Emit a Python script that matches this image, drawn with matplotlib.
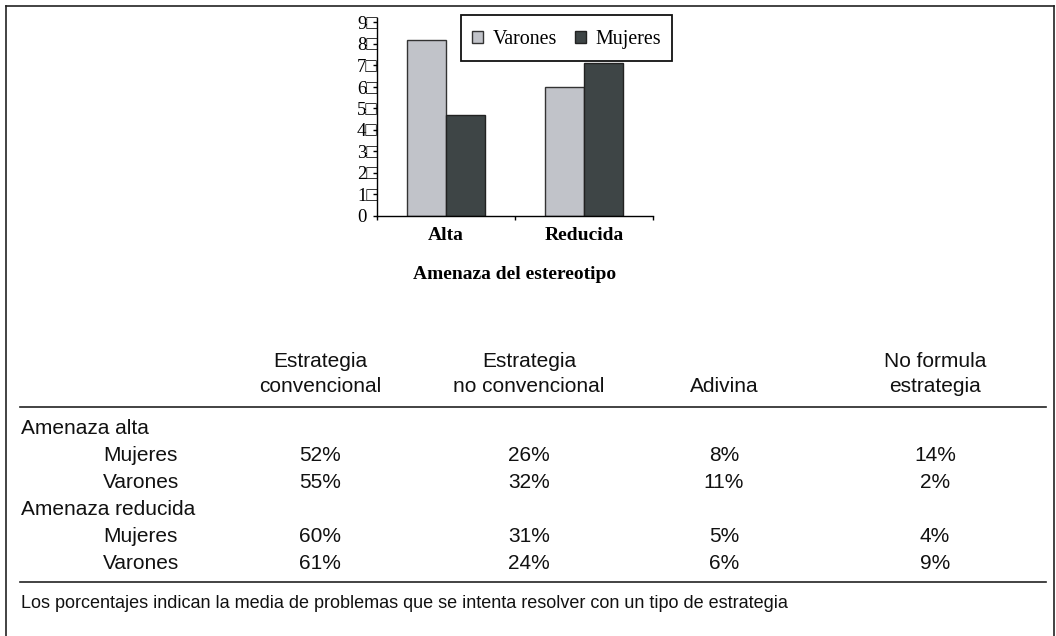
import matplotlib
matplotlib.use("Agg")
import matplotlib.pyplot as plt
from matplotlib.patches import Rectangle
from matplotlib.lines import Line2D
import numpy as np

# ---------------- data ----------------
categories = ["Alta", "Reducida"]
series_names = ["Varones", "Mujeres"]
varones = [82, 60]
mujeres = [47, 71]
ytick_values = [0, 10, 20, 30, 40, 50, 60, 70, 80, 90]
ytick_labels = ["0", "1\u25a1", "2\u25a1", "3\u25a1", "4\u25a1", "5\u25a1",
                "6\u25a1", "7\u25a1", "8\u25a1", "9\u25a1"]
xlabel_text = "Amenaza del estereotipo"

col_headers = [["Estrategia", "convencional"],
               ["Estrategia", "no convencional"],
               ["", "Adivina"],
               ["No formula", "estrategia"]]
row_groups = ["Amenaza alta", "Amenaza reducida"]
row_sub = ["Mujeres", "Varones"]
table_values = [["52%", "26%", "8%", "14%"],
                ["55%", "32%", "11%", "2%"],
                ["60%", "31%", "5%", "4%"],
                ["61%", "24%", "6%", "9%"]]
footnote = "Los porcentajes indican la media de problemas que se intenta resolver con un tipo de estrategia"

# ---------------- figure ----------------
W, H = 1056, 636
fig = plt.figure(figsize=(W / 100, H / 100), dpi=100)
fig.patch.set_facecolor("white")

def fx(px):
    return px / W

def fy(py):
    return 1 - py / H

serif = ["Liberation Serif", "DejaVu Serif"]
sans = ["Liberation Sans", "DejaVu Sans"]
ink = "#111111"

# outer frame (open at bottom)
for xs, ys in [([6, 6], [6, 636]), ([1054, 1054], [6, 636]), ([6, 1054], [6, 6])]:
    fig.add_artist(Line2D([fx(v) for v in xs], [fy(v) for v in ys], color="#222222",
                          lw=1.2, transform=fig.transFigure))

# ---------------- bar chart ----------------
ax_left, ax_right = 377, 653
ax_bottom_px = 216
ymax = 92
px_per_unit = 2.15
ax_top_px = ax_bottom_px - ymax * px_per_unit
ax = fig.add_axes([fx(ax_left), fy(ax_bottom_px), (ax_right - ax_left) / W,
                   (ax_bottom_px - ax_top_px) / H])

x = np.arange(len(categories))
bw = 0.283
c_light = "#c1c3c9"
c_dark = "#3e4546"
ax.bar(x - bw / 2, varones, width=bw, color=c_light, edgecolor="#333333", linewidth=1.0,
       label=series_names[0])
ax.bar(x + bw / 2, mujeres, width=bw, color=c_dark, edgecolor="#222222", linewidth=1.0,
       label=series_names[1])

ax.set_xlim(-0.5, len(categories) - 0.5)
ax.set_ylim(0, ymax)
for s in ["top", "right"]:
    ax.spines[s].set_visible(False)
ax.spines["left"].set_linewidth(1.0)
ax.spines["bottom"].set_linewidth(1.0)

ax.set_yticks(ytick_values)
ax.set_yticklabels(ytick_labels, family=serif, fontsize=13.5, ha="left")
ax.tick_params(axis="y", direction="out", length=3, width=1, pad=11.4)

ax.set_xticks(x)
ax.set_xticklabels(categories, family=serif, fontsize=14, fontweight="bold")
ax.tick_params(axis="x", which="major", length=0, pad=8)
ax.set_xticks(np.arange(-0.5, len(categories), 1.0), minor=True)
ax.tick_params(axis="x", which="minor", direction="out", length=3, width=1)
ax.set_xlabel(xlabel_text, family=serif, fontsize=14, fontweight="bold", labelpad=16)

# legend: manual frame + frameless figure legend inside
lb = (461, 15, 672, 61)
fig.add_artist(Rectangle((fx(lb[0]), fy(lb[3])), fx(lb[2]) - fx(lb[0]), fy(lb[1]) - fy(lb[3]),
                         transform=fig.transFigure, facecolor="white", edgecolor="#111111",
                         lw=1.3, zorder=5))
handles, labels = ax.get_legend_handles_labels()
leg = fig.legend(handles, labels, loc="center",
                 bbox_to_anchor=(fx(lb[0]), fy(lb[3]) - 0.002,
                                 fx(lb[2]) - fx(lb[0]), fy(lb[1]) - fy(lb[3])),
                 bbox_transform=fig.transFigure, ncol=2, frameon=False,
                 prop={"family": serif, "size": 14.4}, handlelength=0.55, handleheight=0.55,
                 handletextpad=0.5, columnspacing=0.9, borderaxespad=0, borderpad=0)
leg.set_zorder(6)

# ---------------- table ----------------
col_x = [320, 529, 724, 935]
tfs = 15
header_base = [367, 392]
for ci, lines in enumerate(col_headers):
    for li, t in enumerate(lines):
        if t:
            fig.text(fx(col_x[ci]), fy(header_base[li]), t, ha="center", va="baseline",
                     family=sans, fontsize=tfs, color=ink)

for ly in [407, 582]:
    fig.add_artist(Line2D([fx(20), fx(1046)], [fy(ly), fy(ly)], color="#222222", lw=1.2,
                          transform=fig.transFigure))

row_base = [434, 461, 488, 515, 542, 569]
ri = 0
vi = 0
for g in row_groups:
    fig.text(fx(21), fy(row_base[ri]), g, ha="left", va="baseline", family=sans,
             fontsize=tfs, color=ink)
    ri += 1
    for s in row_sub:
        fig.text(fx(103), fy(row_base[ri]), s, ha="left", va="baseline", family=sans,
                 fontsize=tfs, color=ink)
        for ci, v in enumerate(table_values[vi]):
            fig.text(fx(col_x[ci]), fy(row_base[ri]), v, ha="center", va="baseline",
                     family=sans, fontsize=tfs, color=ink)
        ri += 1
        vi += 1

fig.text(fx(21), fy(608), footnote, ha="left", va="baseline", family=sans, fontsize=13,
         color=ink)

fig.savefig("out.png", dpi=100, facecolor="white")
